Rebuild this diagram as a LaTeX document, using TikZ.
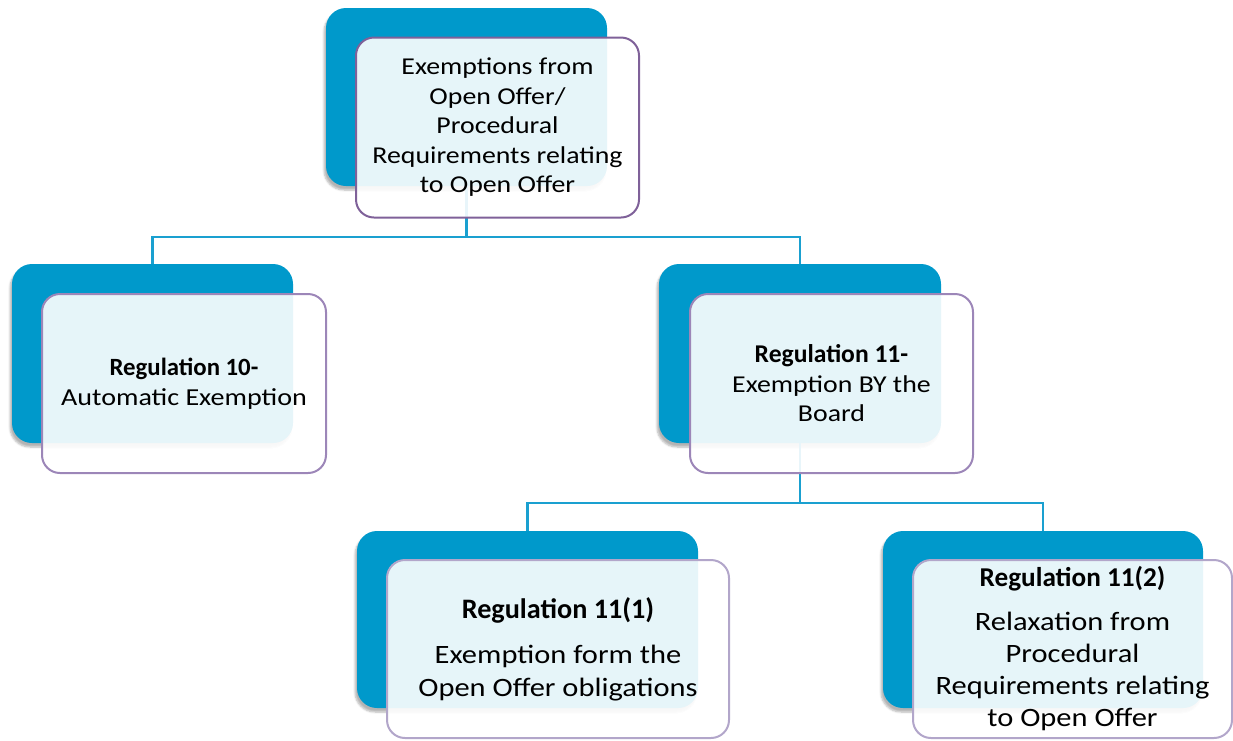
\documentclass[tikz,border=0pt]{standalone}
\usepackage{fontspec}
\setmainfont{Carlito}[FakeStretch=1.15]
\newfontfamily\titlefont{Carlito}
\usetikzlibrary{shadows.blur}
\definecolor{boxblue}{HTML}{0099CB}
\definecolor{linkblue}{HTML}{1AA0D0}
\definecolor{purA}{HTML}{7F6199}
\definecolor{purB}{HTML}{9C86B8}
\definecolor{purC}{HTML}{B2A6CA}
\newcommand{\regtitle}[2]{{\titlefont\bfseries\fontsize{#1}{30}\selectfont #2}}
\tikzset{
  backbox/.style={rectangle, rounded corners=20pt, fill=boxblue, inner sep=0pt,
    blur shadow={shadow xshift=-2pt, shadow yshift=-4pt, shadow opacity=30, shadow blur steps=6}},
  frontbox/.style={rectangle, rounded corners=18pt, fill=white, fill opacity=0.9, text opacity=1,
    line width=2pt, draw=purB, inner sep=0pt, align=center, text=black},
  link/.style={draw=linkblue, line width=2.2pt},
}
\begin{document}
\begin{tikzpicture}[x=1pt, y=-1pt]
\useasboundingbox (0,0) rectangle (1233,740);
% junction coordinates
\coordinate (j1) at (466.5,237);
\coordinate (j2) at (800,503);
% back boxes
\node[backbox, minimum width=281pt, minimum height=178pt] (tb) at (466.5,97) {};
\node[backbox, minimum width=281pt, minimum height=179pt] (lb) at (152.5,353.5) {};
\node[backbox, minimum width=282pt, minimum height=179pt] (mb) at (800,353.5) {};
\node[backbox, minimum width=341pt, minimum height=177pt] (blb) at (527.5,619.5) {};
\node[backbox, minimum width=320pt, minimum height=177pt] (brb) at (1043,619.5) {};
% connectors
\draw[link] (tb.south) -- (j1) -| (lb.north);
\draw[link] (j1) -| (mb.north);
\draw[link] (mb.south) -- (j2) -| (blb.north);
\draw[link] (j2) -| (brb.north);
% front boxes
\node[frontbox, draw=purA, minimum width=283pt, minimum height=180pt,
  font=\fontsize{24.2}{29.5}\selectfont] (tf) at (497.5,127.5)
  {Exemptions from\\Open Offer/\\Procedural\\Requirements relating\\to Open Offer};
\node[frontbox, minimum width=284pt, minimum height=179pt,
  font=\fontsize{24.4}{30}\selectfont] (lf) at (184,383.5)
  {\regtitle{24.8}{Regulation 10-}\\Automatic Exemption};
\node[frontbox, minimum width=283pt, minimum height=179pt,
  font=\fontsize{24.2}{29.5}\selectfont] (mf) at (831.5,383.5)
  {\regtitle{25.6}{Regulation 11-}\\Exemption BY the\\Board};
\node[frontbox, draw=purC, minimum width=342pt, minimum height=178pt,
  font=\fontsize{26.5}{33}\selectfont] (blf) at (558,649)
  {\regtitle{28.2}{Regulation 11(1)}\\[12pt]Exemption form the\\Open Offer obligations};
\node[frontbox, draw=purC, minimum width=319pt, minimum height=178pt,
  font=\fontsize{26.5}{32}\selectfont] (brf) at (1072.5,649)
  {\regtitle{27.2}{Regulation 11(2)}\\[12pt]Relaxation from\\Procedural\\Requirements relating\\to Open Offer};
\end{tikzpicture}
\end{document}
